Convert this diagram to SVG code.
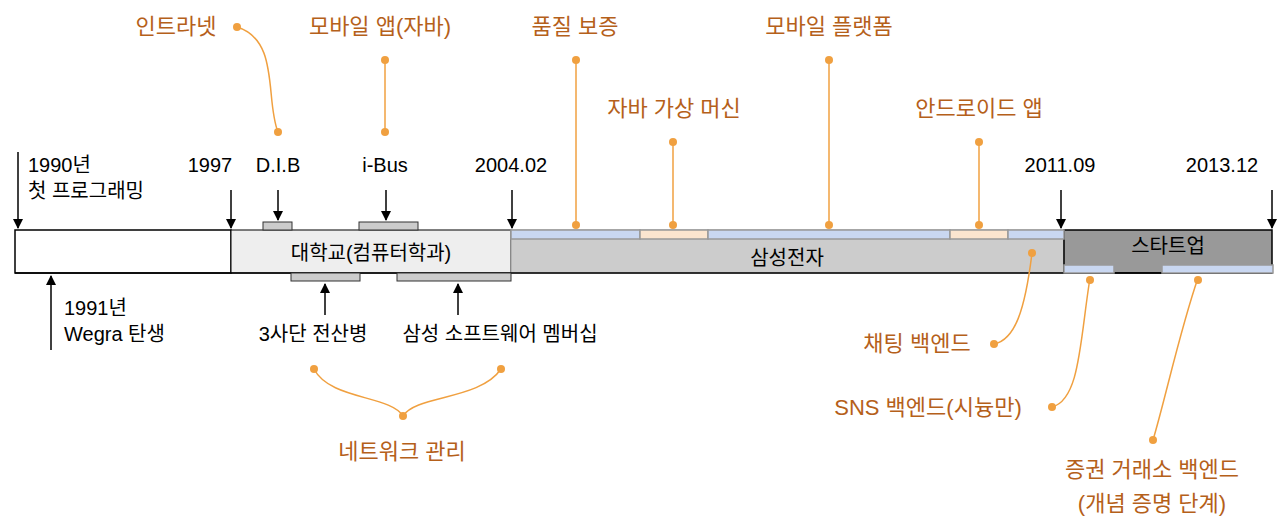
<svg xmlns="http://www.w3.org/2000/svg" width="1280" height="531" viewBox="0 0 1280 531">
<style>
text{font-family:"Liberation Sans","Noto Sans CJK KR",sans-serif;}
.b{font-size:20px;fill:#000;}
.o{font-size:22px;fill:#b5601a;}
.ln{stroke:#000;stroke-width:1.5;fill:none;}
.ol{stroke:#f0a040;stroke-width:1.5;fill:none;}
.dot{fill:#f0a040;}
.sb{stroke:#999;stroke-width:1.5;}
</style>
<defs><marker id="ah" markerWidth="10" markerHeight="10" refX="9" refY="5" orient="auto" markerUnits="userSpaceOnUse"><path d="M0,0 L10,5 L0,10 z" fill="#000"/></marker></defs>
<g id="bar">
<rect x="15" y="230" width="216" height="43" fill="#fff" stroke="#000" stroke-width="1.5"/>
<rect x="231" y="230" width="280" height="43" fill="#eeeeee" stroke="#000" stroke-width="1"/>
<rect x="511" y="230" width="553" height="43" fill="#cccccc" stroke="#999" stroke-width="1"/>
<rect x="1064" y="230" width="208" height="43" fill="#999999" stroke="#000" stroke-width="1.5"/>
<line x1="15" y1="273" x2="1272" y2="273" stroke="#000" stroke-width="1.5"/>
<text x="371" y="260" text-anchor="middle" class="b">대학교(컴퓨터학과)</text>
<text x="787" y="265" text-anchor="middle" class="b">삼성전자</text>
<text x="1168" y="253" text-anchor="middle" class="b">스타트업</text>
</g>
<g id="strips">
<rect x="511" y="230" width="129" height="9" fill="#c9d7f1" class="sb"/>
<rect x="640" y="230" width="68" height="9" fill="#fbe5cf" class="sb"/>
<rect x="708" y="230" width="242" height="9" fill="#c9d7f1" class="sb"/>
<rect x="950" y="230" width="58" height="9" fill="#fbe5cf" class="sb"/>
<rect x="1008" y="230" width="56" height="9" fill="#c9d7f1" class="sb"/>
<rect x="1064" y="265" width="50" height="8" fill="#c9d7f1" class="sb"/>
<rect x="1162" y="265" width="111" height="8" fill="#c9d7f1" class="sb"/>
<rect x="263" y="222" width="29" height="8" fill="#ccc" stroke="#333"/>
<rect x="359" y="222" width="59" height="8" fill="#ccc" stroke="#333"/>
<rect x="291" y="273" width="69" height="8" fill="#ccc" stroke="#333"/>
<rect x="397" y="273" width="114" height="8" fill="#ccc" stroke="#333"/>
</g>
<g id="connectors">
<line x1="18" y1="152" x2="18" y2="228" class="ln" marker-end="url(#ah)"/>
<line x1="231" y1="190" x2="231" y2="228" class="ln" marker-end="url(#ah)"/>
<line x1="512" y1="190" x2="512" y2="228" class="ln" marker-end="url(#ah)"/>
<line x1="1061" y1="190" x2="1061" y2="228" class="ln" marker-end="url(#ah)"/>
<line x1="1272" y1="190" x2="1272" y2="228" class="ln" marker-end="url(#ah)"/>
<line x1="278" y1="190" x2="278" y2="220" class="ln" marker-end="url(#ah)"/>
<line x1="386" y1="190" x2="386" y2="220" class="ln" marker-end="url(#ah)"/>
<line x1="51" y1="350" x2="51" y2="276" class="ln" marker-end="url(#ah)"/>
<line x1="325" y1="315" x2="325" y2="284" class="ln" marker-end="url(#ah)"/>
<line x1="458" y1="315" x2="458" y2="284" class="ln" marker-end="url(#ah)"/>
<path d="M237,27 C280,40 265,100 278,132" class="ol"/>
<line x1="385" y1="60" x2="385" y2="132" class="ol"/>
<line x1="576" y1="60" x2="576" y2="225" class="ol"/>
<line x1="673" y1="142" x2="673" y2="225" class="ol"/>
<line x1="829" y1="60" x2="829" y2="225" class="ol"/>
<line x1="979" y1="142" x2="979" y2="225" class="ol"/>
<path d="M1032,253 C1025,310 1015,340 994,344" class="ol"/>
<path d="M1090,278 C1080,340 1080,400 1052,407" class="ol"/>
<path d="M1198,278 C1180,330 1165,400 1153,440" class="ol"/>
<path d="M314,369 C330,400 390,395 403,416 C416,395 480,400 501,369" class="ol"/>
<g class="dot">
<circle cx="237" cy="27" r="4"/><circle cx="278" cy="132" r="4"/>
<circle cx="385" cy="60" r="4"/><circle cx="385" cy="132" r="4"/>
<circle cx="576" cy="60" r="4"/><circle cx="576" cy="225" r="4"/>
<circle cx="673" cy="142" r="4"/><circle cx="673" cy="225" r="4"/>
<circle cx="829" cy="60" r="4"/><circle cx="829" cy="225" r="4"/>
<circle cx="979" cy="142" r="4"/><circle cx="979" cy="225" r="4"/>
<circle cx="1032" cy="253" r="4"/><circle cx="994" cy="344" r="4"/>
<circle cx="1090" cy="280" r="4"/><circle cx="1052" cy="407" r="4"/>
<circle cx="1198" cy="280" r="4"/><circle cx="1153" cy="440" r="4"/>
<circle cx="314" cy="369" r="4"/><circle cx="501" cy="369" r="4"/><circle cx="403" cy="416" r="4"/>
</g>
</g>
<g id="labels">
<text x="28" y="172" class="b">1990년</text>
<text x="28" y="198" class="b">첫 프로그래밍</text>
<text x="210" y="172" text-anchor="middle" class="b">1997</text>
<text x="278" y="172" text-anchor="middle" class="b">D.I.B</text>
<text x="385" y="172" text-anchor="middle" class="b">i-Bus</text>
<text x="511" y="172" text-anchor="middle" class="b">2004.02</text>
<text x="1060" y="172" text-anchor="middle" class="b">2011.09</text>
<text x="1222" y="172" text-anchor="middle" class="b">2013.12</text>
<text x="64" y="315" class="b">1991년</text>
<text x="64" y="341" class="b">Wegra 탄생</text>
<text x="313" y="341" text-anchor="middle" class="b">3사단 전산병</text>
<text x="500" y="341" text-anchor="middle" class="b">삼성 소프트웨어 멤버십</text>
<text x="176" y="34" text-anchor="middle" class="o">인트라넷</text>
<text x="380" y="34" text-anchor="middle" class="o">모바일 앱(자바)</text>
<text x="575" y="34" text-anchor="middle" class="o">품질 보증</text>
<text x="674" y="116" text-anchor="middle" class="o">자바 가상 머신</text>
<text x="829" y="34" text-anchor="middle" class="o">모바일 플랫폼</text>
<text x="979" y="116" text-anchor="middle" class="o">안드로이드 앱</text>
<text x="917" y="351" text-anchor="middle" class="o">채팅 백엔드</text>
<text x="928" y="415" text-anchor="middle" class="o">SNS 백엔드(시늉만)</text>
<text x="1152" y="477" text-anchor="middle" class="o">증권 거래소 백엔드</text>
<text x="1152" y="511" text-anchor="middle" class="o">(개념 증명 단계)</text>
<text x="402" y="459" text-anchor="middle" class="o">네트워크 관리</text>
</g>
</svg>
